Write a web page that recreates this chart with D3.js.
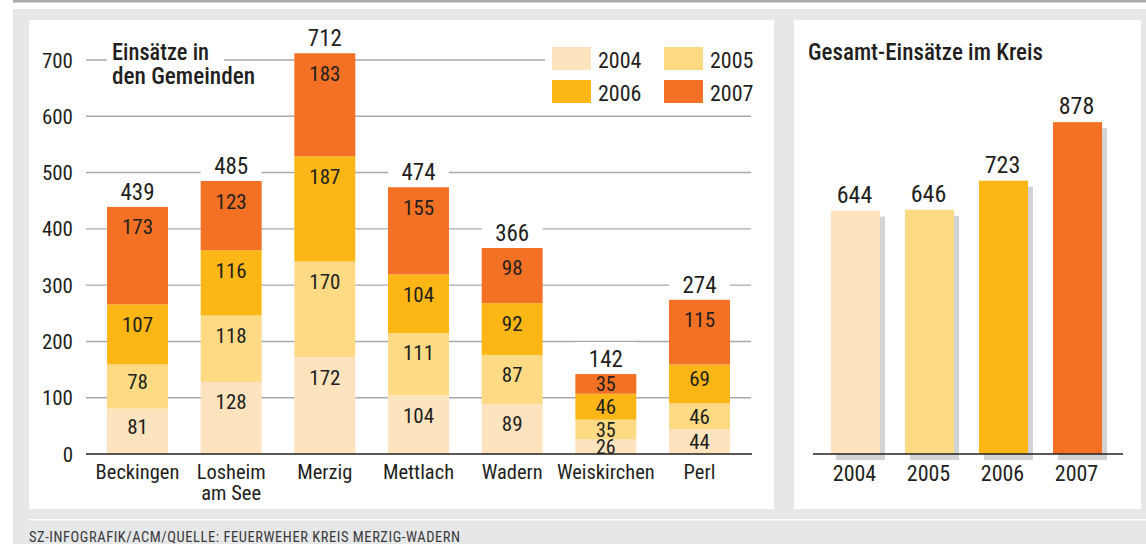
<!DOCTYPE html>
<html><head><meta charset="utf-8">
<script src="https://cdn.jsdelivr.net/npm/d3@7"></script>
<style>
html,body{margin:0;padding:0;background:#fff;}
svg{display:block;}
text{font-family:"Roboto Condensed","Archivo Narrow",sans-serif;fill:#231f20;}
</style></head>
<body>
<svg id="chart" width="1146" height="544"></svg>
<script>
// ---- data ----
const gemeinden = ["Beckingen", "Losheim am See", "Merzig", "Mettlach", "Wadern", "Weiskirchen", "Perl"];
const gemeindenLines = [["Beckingen"], ["Losheim", "am See"], ["Merzig"], ["Mettlach"], ["Wadern"], ["Weiskirchen"], ["Perl"]];
const years = ["2004", "2005", "2006", "2007"];
const v2004 = [81, 128, 172, 104, 89, 26, 44];
const v2005 = [78, 118, 170, 111, 87, 35, 46];
const v2006 = [107, 116, 187, 104, 92, 46, 69];
const v2007 = [173, 123, 183, 155, 98, 35, 115];
const totals = [439, 485, 712, 474, 366, 142, 274];
const yTicks = [0, 100, 200, 300, 400, 500, 600, 700];
const kreisTotals = [644, 646, 723, 878];
const yearColors = ["#fee3bf", "#feda85", "#fcb716", "#f37125"];
const titleLeft = ["Einsätze in", "den Gemeinden"];
const titleRight = "Gesamt-Einsätze im Kreis";
const footer = "SZ-INFOGRAFIK/ACM/QUELLE: FEUERWEHER KREIS MERZIG-WADERN";

const svg = d3.select("#chart");
const ink = "#231f20";

// ---- frame ----
svg.append("rect").attr("x", 13).attr("y", 9).attr("width", 1133).attr("height", 535).attr("fill", "#e6e7e8");
svg.append("rect").attr("x", 13).attr("y", 0).attr("width", 1133).attr("height", 2.5).attr("fill", "#a7a9ac");
svg.append("rect").attr("x", 29).attr("y", 20).attr("width", 745).attr("height", 489).attr("fill", "#fff");
svg.append("rect").attr("x", 794).attr("y", 20).attr("width", 347).attr("height", 489).attr("fill", "#fff");
svg.append("rect").attr("x", 29).attr("y", 519).attr("width", 1117).attr("height", 1.5).attr("fill", "#fff");
svg.append("text").attr("x", 29).attr("y", 541.5).attr("font-size", 14.5)
  .attr("textLength", 431).attr("lengthAdjust", "spacing").style("fill", "#3a3a3a").text(footer);

// ---- left chart ----
const y = d3.scaleLinear().domain([0, 700]).range([454, 60]);
const x = d3.scaleBand().domain(gemeinden).range([90.67, 746.33]).paddingInner(0.349).paddingOuter(0.1745);

const grid = svg.append("g");
grid.selectAll("line").data(yTicks.filter(d => d > 0)).join("line")
  .attr("x1", 86).attr("x2", 751).attr("y1", d => y(d)).attr("y2", d => y(d))
  .attr("stroke", "#a7a9ac").attr("stroke-width", 1.4);
svg.append("g").selectAll("text").data(yTicks).join("text")
  .attr("x", 73).attr("y", d => y(d) + 7.5).attr("text-anchor", "end").attr("font-size", 21).text(d => d);

// title & legend masks
svg.append("rect").attr("x", 107).attr("y", 38).attr("width", 117).attr("height", 52).attr("fill", "#fff");
svg.append("rect").attr("x", 545).attr("y", 38).attr("width", 210).attr("height", 70).attr("fill", "#fff");

const series = [v2004, v2005, v2006, v2007];
const stackData = gemeinden.map((g, i) => {
  let acc = 0;
  return series.map((s, k) => { const seg = {g, i, k, v: s[i], y0: acc, y1: acc + s[i]}; acc += s[i]; return seg; });
});

// white masks behind totals
svg.append("g").selectAll("rect").data(gemeinden).join("rect")
  .attr("x", d => x(d)).attr("width", x.bandwidth())
  .attr("y", (d, i) => y(totals[i]) - 32).attr("height", 32).attr("fill", "#fff");

const bars = svg.append("g");
stackData.forEach(segs => {
  bars.selectAll(null).data(segs).join("rect")
    .attr("x", d => x(d.g)).attr("width", x.bandwidth())
    .attr("y", d => y(d.y1)).attr("height", d => y(d.y0) - y(d.y1))
    .attr("fill", d => yearColors[d.k]);
  bars.selectAll(null).data(segs).join("text")
    .attr("x", d => x(d.g) + x.bandwidth() / 2)
    .attr("y", d => {
      const top = y(d.y1), h = y(d.y0) - y(d.y1);
      const off = h < 30 ? h / 2 : Math.min(h / 2 - 5, 20);
      return top + off + 7.5;
    })
    .attr("text-anchor", "middle").attr("font-size", d => (y(d.y0) - y(d.y1)) < 22 ? 20 : 21).text(d => d.v);
});

svg.append("g").selectAll("text").data(gemeinden).join("text")
  .attr("x", d => x(d) + x.bandwidth() / 2).attr("y", (d, i) => y(totals[i]) - 7)
  .attr("text-anchor", "middle").attr("font-size", 23).text((d, i) => totals[i]);

svg.append("line").attr("x1", 86).attr("x2", 752).attr("y1", y(0)).attr("y2", y(0))
  .attr("stroke", ink).attr("stroke-width", 1.6);

const cat = svg.append("g");
gemeinden.forEach((g, i) => {
  gemeindenLines[i].forEach((ln, j) => {
    cat.append("text").attr("x", x(g) + x.bandwidth() / 2).attr("y", 479 + j * 20.5)
      .attr("text-anchor", "middle").attr("font-size", 20.5).text(ln);
  });
});

// title
const titleW = [97, 143];
titleLeft.forEach((t, j) => {
  svg.append("text").attr("x", 112).attr("y", 60 + j * 23.5).attr("font-size", 23)
    .attr("font-weight", 500).attr("textLength", titleW[j]).attr("lengthAdjust", "spacingAndGlyphs").text(t);
});

// legend
const leg = svg.append("g");
years.forEach((yr, k) => {
  const col = k % 2, row = Math.floor(k / 2);
  leg.append("rect").attr("x", 552 + col * 112).attr("y", 47 + row * 33).attr("width", 39).attr("height", 23).attr("fill", yearColors[k]);
  leg.append("text").attr("x", 598 + col * 112).attr("y", 67.5 + row * 33).attr("font-size", 22).text(yr);
});

// ---- right chart ----
const x2 = d3.scaleBand().domain(years).range([818.5, 1114.5]).paddingInner(0.338).paddingOuter(0.169);
const y2 = d3.scaleLinear().domain([0, 1000]).range([454, 76]);

svg.append("g").selectAll("rect").data(years).join("rect")
  .attr("x", d => x2(d) + 5).attr("width", x2.bandwidth())
  .attr("y", (d, i) => y2(kreisTotals[i]) + 6).attr("height", (d, i) => y2(0) - y2(kreisTotals[i]))
  .attr("fill", "#d1d3d4");
svg.append("g").selectAll("rect").data(years).join("rect")
  .attr("x", d => x2(d)).attr("width", x2.bandwidth())
  .attr("y", (d, i) => y2(kreisTotals[i])).attr("height", (d, i) => y2(0) - y2(kreisTotals[i]))
  .attr("fill", (d, i) => yearColors[i]);
svg.append("line").attr("x1", 813).attr("x2", 1123).attr("y1", y2(0)).attr("y2", y2(0))
  .attr("stroke", ink).attr("stroke-width", 1.6);
svg.append("g").selectAll("text").data(years).join("text")
  .attr("x", d => x2(d) + x2.bandwidth() / 2 - 1).attr("y", (d, i) => y2(kreisTotals[i]) - 8)
  .attr("text-anchor", "middle").attr("font-size", 24).text((d, i) => kreisTotals[i]);
svg.append("g").selectAll("text").data(years).join("text")
  .attr("x", d => x2(d) + x2.bandwidth() / 2 - 1).attr("y", 481)
  .attr("text-anchor", "middle").attr("font-size", 22).text(d => d);
svg.append("text").attr("x", 808).attr("y", 60).attr("font-size", 23.5).attr("font-weight", 500)
  .attr("textLength", 235).attr("lengthAdjust", "spacingAndGlyphs").text(titleRight);
</script>
</body></html>
